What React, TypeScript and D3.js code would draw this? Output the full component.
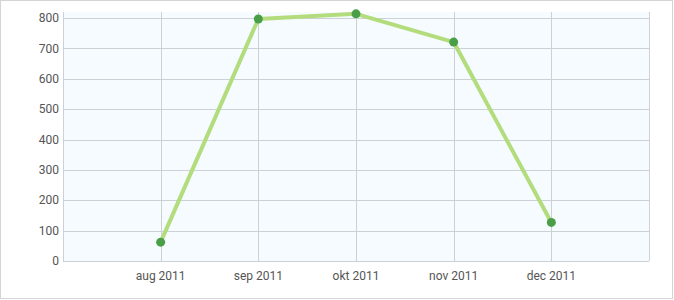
import React from "react";
import * as d3 from "d3";

const categories = ["aug 2011", "sep 2011", "okt 2011", "nov 2011", "dec 2011"];
const values = [62, 797, 814, 721, 127];
const yTicks = [0, 100, 200, 300, 400, 500, 600, 700, 800];

const W = 674;
const H = 300;
const M = { left: 63, right: 649, top: 12, bottom: 261 };

export default function App() {
  const x = d3.scaleLinear().domain([-1, categories.length]).range([M.left, M.right]);
  const y = d3.scaleLinear().domain([0, 820]).range([M.bottom, M.top]);
  const line = d3
    .line<number>()
    .x((_, i) => x(i))
    .y((d) => y(d));
  const gridX = d3.range(-1, categories.length + 1);
  return (
    <svg
      width={W}
      height={H}
      style={{ position: "absolute", left: 0, top: 0, fontFamily: "Roboto, sans-serif" }}
    >
      <rect x={0.5} y={0.5} width={W - 2} height={H - 2} fill="#fff" stroke="#d3d6d8" strokeWidth={1} />
      <rect x={M.left} y={M.top} width={M.right - M.left} height={M.bottom - M.top} fill="#f5fbff" />
      {yTicks.map((t) => (
        <line key={"gy" + t} x1={M.left} x2={M.right} y1={Math.round(y(t)) + 0.5} y2={Math.round(y(t)) + 0.5} stroke="#cdd1d5" />
      ))}
      {gridX.map((i) => (
        <line key={"gx" + i} x1={Math.round(x(i)) + 0.5} x2={Math.round(x(i)) + 0.5} y1={M.top} y2={M.bottom} stroke="#cdd1d5" />
      ))}
      {yTicks.map((t) => (
        <text key={"ty" + t} x={59} y={y(t)} dy="0.35em" textAnchor="end" fontSize={12} fill="#555">
          {t}
        </text>
      ))}
      {categories.map((c, i) => (
        <text key={c} x={x(i)} y={276} dy="0.35em" textAnchor="middle" fontSize={12} fill="#555">
          {c}
        </text>
      ))}
      <path d={line(values) || ""} fill="none" stroke="#b3dc7c" strokeWidth={4} strokeLinejoin="round" strokeLinecap="round" />
      {values.map((v, i) => (
        <circle key={i} cx={x(i)} cy={y(v)} r={4.5} fill="#4a9e48" />
      ))}
    </svg>
  );
}
